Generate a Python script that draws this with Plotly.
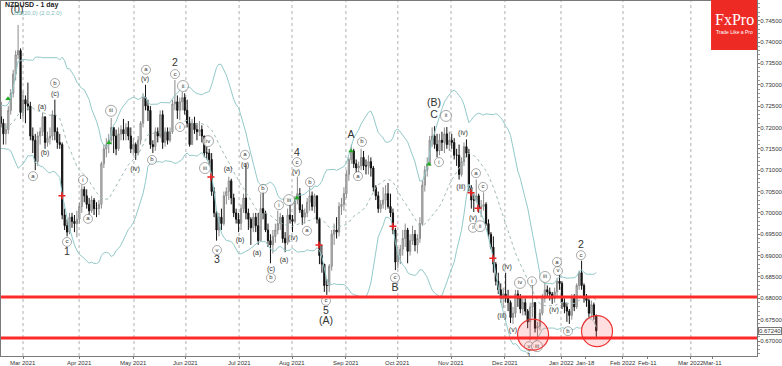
import plotly.graph_objects as go
import numpy as np
import pandas as pd

# ---------------- data ----------------
# warm-up closes (bars before the visible window, used for the Bollinger bands)
warm_close = [0.7165, 0.7190, 0.7215, 0.7205, 0.7180, 0.7215, 0.7200, 0.7200, 0.7175, 0.7190,
              0.7165, 0.7160, 0.7185, 0.7160, 0.7210, 0.7225, 0.7235, 0.7250, 0.7235, 0.7225]

high = [0.7260, 0.7220, 0.7210, 0.7250, 0.7290, 0.7335, 0.7380, 0.7440, 0.7385, 0.7285,
        0.7275, 0.7305, 0.7260, 0.7200, 0.7185, 0.7190, 0.7200, 0.7235, 0.7225, 0.7190,
        0.7200, 0.7240, 0.7265, 0.7200, 0.7185, 0.7165, 0.7010, 0.6985, 0.7000, 0.7000,
        0.6995, 0.7005, 0.7025, 0.7065, 0.7062, 0.7055, 0.7035, 0.7040, 0.7035, 0.7025,
        0.7030, 0.7120, 0.7160, 0.7175, 0.7185, 0.7222, 0.7200, 0.7195, 0.7200, 0.7205,
        0.7220, 0.7210, 0.7215, 0.7200, 0.7175, 0.7165, 0.7180, 0.7215, 0.7280, 0.7300,
        0.7265, 0.7250, 0.7170, 0.7200, 0.7200, 0.7240, 0.7240, 0.7200, 0.7200, 0.7200,
        0.7265, 0.7311, 0.7275, 0.7270, 0.7283, 0.7280, 0.7265, 0.7225, 0.7220, 0.7225,
        0.7210, 0.7215, 0.7205, 0.7180, 0.7155, 0.7150, 0.7140, 0.7060, 0.7005, 0.7000,
        0.7010, 0.7050, 0.7060, 0.7085, 0.7080, 0.7045, 0.7010, 0.7000, 0.7020, 0.7045,
        0.7115, 0.7010, 0.6990, 0.7000, 0.7000, 0.7000, 0.7045, 0.7050, 0.7005, 0.6975,
        0.6950, 0.6960, 0.6975, 0.7005, 0.7000, 0.6995, 0.6955, 0.7010, 0.7020, 0.6995,
        0.7040, 0.7085, 0.7058, 0.7020, 0.7010, 0.7035, 0.7060, 0.7050, 0.7045, 0.7040,
        0.6990, 0.6925, 0.6880, 0.6845, 0.6880, 0.6960, 0.6975, 0.6990, 0.7025, 0.7035,
        0.7060, 0.7100, 0.7130, 0.7160, 0.7150, 0.7125, 0.7120, 0.7150, 0.7145, 0.7125,
        0.7135, 0.7130, 0.7110, 0.7065, 0.7050, 0.7030, 0.7060, 0.7065, 0.7070, 0.7045,
        0.7010, 0.6965, 0.6920, 0.6925, 0.6960, 0.6975, 0.6965, 0.6950, 0.6970, 0.6960,
        0.6950, 0.6990, 0.7075, 0.7110, 0.7130, 0.7180, 0.7200, 0.7203, 0.7185, 0.7185,
        0.7190, 0.7200, 0.7201, 0.7190, 0.7185, 0.7175, 0.7150, 0.7160, 0.7130, 0.7165,
        0.7172, 0.7150, 0.7065, 0.7045, 0.7078, 0.7045, 0.7030, 0.7048, 0.7025, 0.6985,
        0.6955, 0.6945, 0.6885, 0.6860, 0.6835, 0.6825, 0.6860, 0.6820, 0.6795, 0.6780,
        0.6820, 0.6819, 0.6810, 0.6800, 0.6800, 0.6775, 0.6790, 0.6831, 0.6790, 0.6745,
        0.6775, 0.6810, 0.6836, 0.6830, 0.6825, 0.6815, 0.6825, 0.6848, 0.6855, 0.6840,
        0.6800, 0.6790, 0.6775, 0.6810, 0.6810, 0.6835, 0.6865, 0.6888, 0.6835, 0.6810,
        0.6800, 0.6795, 0.6790, 0.6762]

low = [0.7200, 0.7160, 0.7160, 0.7185, 0.7230, 0.7270, 0.7310, 0.7360, 0.7220, 0.7220,
       0.7210, 0.7240, 0.7170, 0.7140, 0.7100, 0.7110, 0.7160, 0.7180, 0.7150, 0.7155,
       0.7160, 0.7170, 0.7170, 0.7150, 0.7150, 0.6985, 0.6960, 0.6945, 0.6950, 0.6965,
       0.6955, 0.6943, 0.6975, 0.7000, 0.7025, 0.7010, 0.6995, 0.7000, 0.6995, 0.6990,
       0.6995, 0.7010, 0.7105, 0.7130, 0.7140, 0.7160, 0.7140, 0.7135, 0.7145, 0.7170,
       0.7170, 0.7170, 0.7170, 0.7140, 0.7135, 0.7124, 0.7135, 0.7160, 0.7200, 0.7240,
       0.7215, 0.7150, 0.7140, 0.7145, 0.7165, 0.7175, 0.7150, 0.7155, 0.7160, 0.7165,
       0.7185, 0.7240, 0.7220, 0.7217, 0.7240, 0.7230, 0.7200, 0.7155, 0.7160, 0.7185,
       0.7170, 0.7180, 0.7165, 0.7130, 0.7125, 0.7110, 0.7040, 0.6990, 0.6935, 0.6945,
       0.6960, 0.6970, 0.7020, 0.7030, 0.7020, 0.6990, 0.6975, 0.6955, 0.6960, 0.7000,
       0.6985, 0.6960, 0.6925, 0.6955, 0.6955, 0.6925, 0.6935, 0.6985, 0.6955, 0.6920,
       0.6882, 0.6905, 0.6930, 0.6950, 0.6960, 0.6930, 0.6908, 0.6925, 0.6975, 0.6955,
       0.6975, 0.7020, 0.7000, 0.6972, 0.6975, 0.6990, 0.7005, 0.7005, 0.7000, 0.6975,
       0.6880, 0.6860, 0.6815, 0.6808, 0.6815, 0.6865, 0.6925, 0.6940, 0.6945, 0.6995,
       0.7005, 0.7035, 0.7075, 0.7115, 0.7105, 0.7095, 0.7095, 0.7100, 0.7100, 0.7090,
       0.7090, 0.7085, 0.7050, 0.7030, 0.7000, 0.7000, 0.7010, 0.7007, 0.7010, 0.6990,
       0.6950, 0.6866, 0.6870, 0.6880, 0.6900, 0.6920, 0.6882, 0.6900, 0.6925, 0.6910,
       0.6905, 0.6930, 0.6970, 0.7050, 0.7085, 0.7110, 0.7155, 0.7150, 0.7130, 0.7135,
       0.7145, 0.7140, 0.7150, 0.7145, 0.7150, 0.7125, 0.7110, 0.7078, 0.7085, 0.7110,
       0.7130, 0.7050, 0.7010, 0.7002, 0.7025, 0.7000, 0.6990, 0.7005, 0.6970, 0.6940,
       0.6915, 0.6860, 0.6830, 0.6810, 0.6790, 0.6777, 0.6790, 0.6770, 0.6742, 0.6740,
       0.6755, 0.6780, 0.6765, 0.6760, 0.6760, 0.6730, 0.6701, 0.6755, 0.6720, 0.6705,
       0.6725, 0.6760, 0.6790, 0.6805, 0.6795, 0.6787, 0.6790, 0.6800, 0.6820, 0.6775,
       0.6765, 0.6745, 0.6740, 0.6750, 0.6770, 0.6775, 0.6820, 0.6820, 0.6790, 0.6780,
       0.6755, 0.6755, 0.6750, 0.6707]

close = [0.7210, 0.7185, 0.7195, 0.7240, 0.7280, 0.7325, 0.7370, 0.7380, 0.7235, 0.7265,
         0.7255, 0.7250, 0.7180, 0.7170, 0.7120, 0.7180, 0.7190, 0.7225, 0.7165, 0.7175,
         0.7180, 0.7230, 0.7190, 0.7165, 0.7160, 0.6995, 0.6970, 0.6955, 0.6990, 0.6980,
         0.6975, 0.6985, 0.7015, 0.7055, 0.7040, 0.7020, 0.7005, 0.7030, 0.7010, 0.7010,
         0.7020, 0.7115, 0.7150, 0.7160, 0.7170, 0.7200, 0.7180, 0.7150, 0.7185, 0.7195,
         0.7185, 0.7200, 0.7180, 0.7150, 0.7160, 0.7140, 0.7170, 0.7210, 0.7270, 0.7250,
         0.7240, 0.7160, 0.7155, 0.7190, 0.7180, 0.7230, 0.7165, 0.7190, 0.7170, 0.7190,
         0.7255, 0.7260, 0.7240, 0.7260, 0.7270, 0.7240, 0.7210, 0.7160, 0.7210, 0.7195,
         0.7190, 0.7195, 0.7180, 0.7140, 0.7140, 0.7125, 0.7050, 0.7000, 0.6960, 0.6990,
         0.6975, 0.7040, 0.7050, 0.7075, 0.7035, 0.7000, 0.6985, 0.6975, 0.7010, 0.7035,
         0.7000, 0.6985, 0.6965, 0.6990, 0.6970, 0.6935, 0.7010, 0.7000, 0.6960, 0.6935,
         0.6925, 0.6945, 0.6960, 0.6975, 0.6990, 0.6940, 0.6930, 0.6995, 0.6985, 0.6980,
         0.7030, 0.7045, 0.7007, 0.6990, 0.7000, 0.7025, 0.7040, 0.7015, 0.7040, 0.6985,
         0.6900, 0.6880, 0.6830, 0.6830, 0.6875, 0.6950, 0.6960, 0.6955, 0.7015, 0.7020,
         0.7045, 0.7090, 0.7125, 0.7145, 0.7115, 0.7105, 0.7110, 0.7130, 0.7110, 0.7110,
         0.7120, 0.7105, 0.7060, 0.7040, 0.7010, 0.7020, 0.7030, 0.7045, 0.7015, 0.7000,
         0.6960, 0.6885, 0.6900, 0.6915, 0.6940, 0.6960, 0.6910, 0.6935, 0.6950, 0.6925,
         0.6940, 0.6975, 0.7065, 0.7100, 0.7115, 0.7170, 0.7180, 0.7160, 0.7145, 0.7170,
         0.7165, 0.7185, 0.7160, 0.7170, 0.7165, 0.7135, 0.7135, 0.7090, 0.7120, 0.7155,
         0.7140, 0.7060, 0.7030, 0.7030, 0.7040, 0.7010, 0.7015, 0.7020, 0.6975, 0.6950,
         0.6920, 0.6880, 0.6840, 0.6820, 0.6800, 0.6810, 0.6800, 0.6790, 0.6755, 0.6765,
         0.6810, 0.6800, 0.6775, 0.6790, 0.6770, 0.6745, 0.6780, 0.6790, 0.6730, 0.6735,
         0.6765, 0.6800, 0.6820, 0.6815, 0.6810, 0.6800, 0.6815, 0.6840, 0.6835, 0.6790,
         0.6780, 0.6770, 0.6760, 0.6800, 0.6780, 0.6830, 0.6860, 0.6830, 0.6800, 0.6795,
         0.6765, 0.6785, 0.6760, 0.6724]

last_price = 0.6724
support_levels = [0.6803, 0.6707]

tick_labels = ["Mar 2021", "Apr 2021", "May 2021", "Jun 2021", "Jul 2021", "Aug 2021",
               "Sep 2021", "Oct 2021", "Nov 2021", "Dec 2021", "Jan 2022", "Jan-18",
               "Feb 2022", "Feb-11", "Mar 2022", "Mar-11"]
tick_pos = [9.0, 31.9, 54.3, 75.5, 97.2, 118.8, 140.8, 162.0, 183.7, 205.7, 228.6, 238.8,
            253.9, 263.7, 281.6, 290.6]
grid_labels = ["Mar 2021", "Apr 2021", "May 2021", "Jun 2021", "Jul 2021", "Aug 2021",
               "Sep 2021", "Oct 2021", "Nov 2021", "Dec 2021", "Jan 2022", "Feb 2022", "Mar 2022"]

# wave labels: text, bar index, price, kind (big / paren / circ)
label_text = ["(0)", "a", "(a)", "(b)", "b", "(c)", "c", "1", "i", "a",
              "iii", "(iv)", "a", "(v)", "b", "2", "c", "ii", "i", "iv",
              "iii", "v", "3", "a", "(a)", "(b)", "(c)", "b", "(a)", "(c)",
              "b", "i", "iii", "(a)", "(iv)", "4", "c", "(v)", "b", "a",
              "c", "5", "(A)", "A", "b", "a", "c", "B", "(B)", "C",
              "i", "ii", "(iv)", "(iii)", "a", "(v)", "i", "ii", "c", "(iv)",
              "(iii)", "(v)", "iv", "i", "iii", "a", "v", "(iv)", "b", "v",
              "iii", "1", "2", "c"]
label_idx = [6.55, 13.08, 16.75, 17.98, 22.06, 22.06, 26.96, 26.96, 33.49, 35.53,
             44.92, 54.71, 59.2, 58.79, 61.65, 71.04, 71.04, 74.3, 73.08, 84.5,
             83.28, 88.18, 88.18, 99.61, 92.67, 97.57, 99.61, 106.96, 104.51, 110.22,
             110.22, 113.48, 117.57, 115.53, 119.2, 120.84, 120.84, 120.43, 126.14, 124.9,
             132.67, 132.67, 132.67, 142.88, 147.37, 145.73, 160.84, 160.84, 176.75, 176.75,
             178.8, 181.65, 188.59, 187.77, 193.9, 192.67, 192.67, 195.53, 196.76, 206.55,
             204.5, 208.99, 211.85, 216.75, 222.06, 226.96, 227.37, 225.73, 231.45, 215.53,
             218.8, 215.53, 236.75, 236.75]
label_price = [0.7475, 0.7086, 0.7248, 0.7140, 0.7304, 0.7278, 0.6932, 0.6908, 0.7077, 0.6986,
               0.7239, 0.7103, 0.7335, 0.7313, 0.7124, 0.7351, 0.7325, 0.7297, 0.7201, 0.7168,
               0.7105, 0.6913, 0.6890, 0.7136, 0.7103, 0.6937, 0.7112, 0.7056, 0.6906, 0.6869,
               0.6848, 0.7018, 0.7030, 0.6890, 0.6941, 0.7140, 0.7119, 0.7096, 0.7072, 0.6958,
               0.6794, 0.6770, 0.6745, 0.7182, 0.7166, 0.7086, 0.6848, 0.6824, 0.7256, 0.7229,
               0.7119, 0.7227, 0.7187, 0.7061, 0.7093, 0.6988, 0.6965, 0.6969, 0.7061, 0.6873,
               0.6759, 0.6726, 0.6836, 0.6840, 0.6850, 0.6885, 0.6864, 0.6773, 0.6723, 0.6688,
               0.6688, 0.6666, 0.6925, 0.6901]
label_kind = ["big", "circ", "paren", "paren", "circ", "paren", "circ", "big", "circ", "circ",
              "circ", "paren", "circ", "paren", "circ", "big", "circ", "circ", "circ", "circ",
              "circ", "circ", "big", "circ", "paren", "paren", "paren", "circ", "paren", "paren",
              "circ", "circ", "circ", "paren", "paren", "big", "circ", "paren", "circ", "circ",
              "circ", "big", "big", "big", "circ", "circ", "circ", "big", "big", "big",
              "circ", "circ", "paren", "paren", "circ", "paren", "circ", "circ", "circ", "paren",
              "paren", "paren", "circ", "circ", "circ", "circ", "circ", "paren", "circ", "circ",
              "circ", "small", "big", "circ"]

# indicator signal marks
green_idx = [2.88, 44.1, 120.8, 142.9, 174.7]
green_price = [0.7267, 0.7164, 0.7035, 0.7145, 0.7114]
red_idx = [24.9, 85.7, 129.8, 160.0, 191.9, 194.7, 200.8]
red_price = [0.7040, 0.7084, 0.6925, 0.6969, 0.7047, 0.7011, 0.6894]

# highlighted zones (red circles)
zone_idx = [217.2, 243.3]
zone_price = [0.6715, 0.6723]

# ---------------- build ----------------
n = len(close)
idx = list(range(n))
open_ = [warm_close[-1]] + close[:-1]
high = [max(h, o, c) for h, o, c in zip(high, open_, close)]
low = [min(l, o, c) for l, o, c in zip(low, open_, close)]

all_close = pd.Series(warm_close + close)
mid = all_close.rolling(20).mean()
sd = all_close.rolling(20).std(ddof=0)
bb_x = list(range(-len(warm_close), n))
upper = mid + 2 * sd
lower = mid - 2 * sd

FONT = "Liberation Sans, Arial, sans-serif"
BAND = "#93c9c9"

fig = go.Figure()

for series, dash in [(upper, "solid"), (lower, "solid"), (mid, "dot")]:
    fig.add_trace(go.Scatter(x=bb_x, y=series, mode="lines",
                             line=dict(color=BAND if dash == "solid" else "#9fb9b9", width=1, dash=dash),
                             hoverinfo="skip", showlegend=False))

fig.add_trace(go.Candlestick(
    x=idx, open=open_, high=high, low=low, close=close,
    increasing=dict(fillcolor="#d4d4d4", line=dict(color="#8a8a8a", width=1)),
    decreasing=dict(fillcolor="#111111", line=dict(color="#111111", width=1)),
    whiskerwidth=0, showlegend=False, hoverinfo="skip"))

fig.add_trace(go.Scatter(x=green_idx, y=green_price, mode="markers",
                         marker=dict(symbol="triangle-up", size=5, color="#22aa22"),
                         showlegend=False, hoverinfo="skip"))
fig.add_trace(go.Scatter(x=red_idx, y=red_price, mode="markers",
                         marker=dict(symbol="cross-thin", size=5, line=dict(color="#ee2222", width=1.5)),
                         showlegend=False, hoverinfo="skip"))

# labels
for kind in ["circ", "paren", "big", "small"]:
    xs = [x for x, k in zip(label_idx, label_kind) if k == kind]
    ys = [y for y, k in zip(label_price, label_kind) if k == kind]
    ts = [t for t, k in zip(label_text, label_kind) if k == kind]
    if kind == "circ":
        sizes = [9 if len(t) == 1 else 11 for t in ts]
        fig.add_trace(go.Scatter(x=xs, y=ys, mode="markers+text", text=ts,
                                 textposition="middle center",
                                 textfont=dict(family=FONT, size=6, color="#333333"),
                                 marker=dict(symbol="circle", size=sizes, color="white",
                                             line=dict(color="#666666", width=0.8)),
                                 showlegend=False, hoverinfo="skip"))
    else:
        fsize = {"paren": 7, "big": 10.5, "small": 8}[kind]
        fig.add_trace(go.Scatter(x=xs, y=ys, mode="text", text=ts,
                                 textposition="middle center",
                                 textfont=dict(family=FONT, size=fsize, color="#333333"),
                                 showlegend=False, hoverinfo="skip"))

fig.add_trace(go.Scatter(x=zone_idx, y=zone_price, mode="markers",
                         marker=dict(symbol="circle", size=31, color="rgba(255,80,80,0.18)",
                                     line=dict(color="#ee3333", width=1.2)),
                         showlegend=False, hoverinfo="skip"))

shapes = []
for lbl, pos in zip(tick_labels, tick_pos):
    if lbl in grid_labels:
        shapes.append(dict(type="line", xref="x", yref="paper", x0=pos, x1=pos, y0=0, y1=1,
                           line=dict(color="#b0b0b0", width=1, dash="dot"), layer="below"))
for lv in support_levels:
    shapes.append(dict(type="line", xref="paper", yref="y", x0=0, x1=1, y0=lv, y1=lv,
                       line=dict(color="#ff2a2a", width=3), layer="above"))
# FxPro logo box
shapes.append(dict(type="rect", xref="paper", yref="paper", x0=0.9392, x1=1.0, y0=0.862, y1=1.005,
                   fillcolor="#ee2a24", line=dict(width=0), layer="above"))

annotations = [
    dict(text="<b>NZDUSD - 1 day</b>", xref="paper", yref="paper", x=0.003, y=0.989,
         xanchor="left", yanchor="middle", showarrow=False,
         font=dict(family=FONT, size=7, color="#222222")),
    dict(text="BB(20,0) (2.0,2.0)", xref="paper", yref="paper", x=0.015, y=0.966,
         xanchor="left", yanchor="middle", showarrow=False,
         font=dict(family=FONT, size=6, color="#7fbcbc")),
    dict(text="FxPro", xref="paper", yref="paper", x=0.9696, y=0.948,
         xanchor="center", yanchor="middle", showarrow=False,
         font=dict(family="Liberation Serif, serif", size=16, color="white")),
    dict(text="Trade Like a Pro", xref="paper", yref="paper", x=0.9696, y=0.912,
         xanchor="center", yanchor="middle", showarrow=False,
         font=dict(family=FONT, size=5, color="white")),
    dict(text="0.67240", xref="paper", yref="y", x=1.0, y=last_price,
         xanchor="left", yanchor="middle", showarrow=False, xshift=1,
         font=dict(family=FONT, size=6, color="#333333"),
         bordercolor="#777777", borderwidth=1, borderpad=0, bgcolor="white"),
]
# x-axis labels as annotations just under the axis line
for lbl, pos in zip(tick_labels, tick_pos):
    annotations.append(dict(text=lbl, xref="x", yref="paper", x=pos, y=0, yshift=-2,
                            xanchor="center", yanchor="top", showarrow=False,
                            font=dict(family=FONT, size=6, color="#333333")))

fig.update_layout(
    width=782, height=366,
    margin=dict(l=1, r=25, t=1, b=10, autoexpand=False),
    paper_bgcolor="white", plot_bgcolor="white",
    shapes=shapes, annotations=annotations,
    xaxis=dict(range=[0.02, 308.6], tickmode="array", tickvals=tick_pos, ticktext=[""] * len(tick_pos),
               automargin=False, tickangle=0,
               showgrid=False, zeroline=False, rangeslider=dict(visible=False),
               showline=True, linecolor="#7a7a7a", linewidth=1, mirror=True,
               ticks="outside", ticklen=2, tickcolor="#7a7a7a"),
    yaxis=dict(range=[0.6665, 0.7496], side="right", tickformat=".5f", dtick=0.005, tick0=0.67,
               automargin=False,
               showgrid=False, zeroline=False,
               showline=True, linecolor="#7a7a7a", linewidth=1, mirror=True,
               ticks="outside", ticklen=2, tickcolor="#7a7a7a", ticklabelstandoff=-1,
               minor=dict(dtick=0.001, ticks="outside", ticklen=2, tickcolor="#999999"),
               tickfont=dict(family=FONT, size=6, color="#333333")),
)

fig.write_html("out.html")
